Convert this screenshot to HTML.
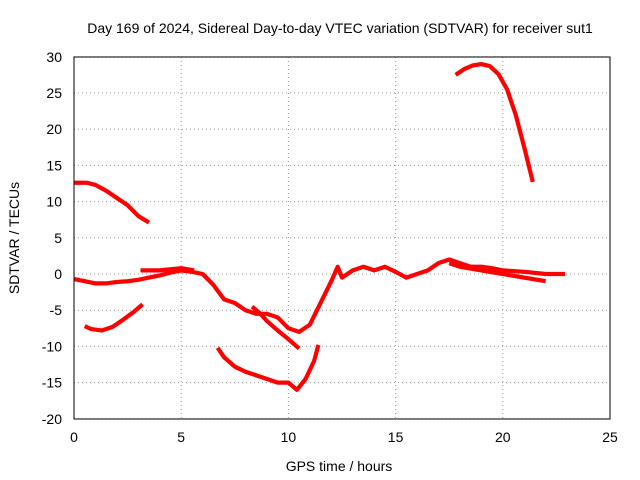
<!DOCTYPE html>
<html><head><meta charset="utf-8"><style>
body{margin:0;background:#fff;}
svg{display:block;font-family:"Liberation Sans",sans-serif;}
</style></head><body>
<svg id="chart" width="640" height="480">
<text x="340" y="33" font-size="14" text-anchor="middle">Day 169 of 2024, Sidereal Day-to-day VTEC variation (SDTVAR) for receiver sut1</text>
<text x="339" y="471" font-size="14" text-anchor="middle">GPS time / hours</text>
<text transform="translate(19,238) rotate(-90)" font-size="14" text-anchor="middle">SDTVAR / TECUs</text>
<g id="grid"></g><g id="series"></g>
<rect x="74" y="57" width="536" height="362" fill="none" stroke="#000"/>
</svg>
<script>
const xTicks=[0,5,10,15,20,25];
const yTicks=[30,25,20,15,10,5,0,-5,-10,-15,-20];
const s1x=[17.8,18.2,18.6,19,19.4,19.8,20.2,20.6,21,21.4];
const s1y=[27.5,28.3,28.8,29,28.7,27.6,25.5,22,17.5,12.7];
const s2x=[0,0.6,1,1.5,2,2.5,3,3.5];
const s2y=[12.6,12.6,12.3,11.5,10.5,9.5,8,7.1];
const s3x=[0.5,0.8,1.3,1.8,2.3,2.8,3.2];
const s3y=[-7.2,-7.6,-7.8,-7.3,-6.3,-5.2,-4.2];
const s4x=[0,0.5,1,1.5,2,2.5,3,3.5,4,4.5,5,5.5,6,6.5,7,7.5,8,8.5,9,9.5,10,10.5,11,11.5,12,12.3,12.5,13,13.5,14,14.5,15,15.5,16,16.5,17,17.5,18,18.5,19,19.5,20,21,22,22.9];
const s4y=[-0.7,-1,-1.3,-1.3,-1.1,-1,-0.8,-0.5,-0.2,0.2,0.5,0.3,0,-1.5,-3.5,-4,-5,-5.5,-5.5,-6,-7.5,-8,-7,-4,-1,1,-0.5,0.5,1,0.5,1,0.3,-0.5,0,0.5,1.5,2,1.5,1,1,0.8,0.5,0.3,0,0];
const s5x=[3.1,4,5,5.6];
const s5y=[0.5,0.5,0.8,0.5];
const s6x=[8.3,8.7,9,9.5,10,10.5];
const s6y=[-4.5,-5.5,-6.5,-7.8,-9,-10.3];
const s7x=[17.5,18,19,20,21,22];
const s7y=[1.5,1,0.5,0,-0.5,-1];
const s8x=[6.7,7,7.5,8,8.5,9,9.5,10,10.4,10.8,11.2,11.4];
const s8y=[-10.2,-11.5,-12.8,-13.5,-14,-14.5,-15,-15,-16,-14.5,-12,-9.8];
const X=v=>74+v*536/25, Y=v=>274-v*362/50;
const NS="http://www.w3.org/2000/svg";
const g=document.getElementById('grid'), sg=document.getElementById('series');
function mk(t,a,p){const e=document.createElementNS(NS,t);for(const k in a)e.setAttribute(k,a[k]);p.appendChild(e);return e;}
xTicks.forEach(v=>{
  const l=mk('line',{x1:X(v),x2:X(v),y1:57,y2:419,stroke:'#999','stroke-dasharray':'1,3'},g);
  
  
  const t=mk('text',{x:X(v),y:442,'font-size':14,'text-anchor':'middle'},g);t.textContent=v;
  
  
});
yTicks.forEach(v=>{
  const l=mk('line',{x1:74,x2:610,y1:Y(v),y2:Y(v),stroke:'#999','stroke-dasharray':'1,3'},g);
  
  
  const t=mk('text',{x:62,y:Y(v)+5,'font-size':14,'text-anchor':'end'},g);t.textContent=v;
  
  
});
[[s1x,s1y],[s2x,s2y],[s3x,s3y],[s4x,s4y],[s5x,s5y],[s6x,s6y],[s7x,s7y],[s8x,s8y]].forEach((s,i)=>{
  const pts=s[0].map((x,j)=>X(x)+','+Y(s[1][j])).join(' ');
  const p=mk('polyline',{points:pts,fill:'none',stroke:'#f00','stroke-width':4.2,'stroke-linejoin':'round'},sg);
  
  
});
</script>
</body></html>
